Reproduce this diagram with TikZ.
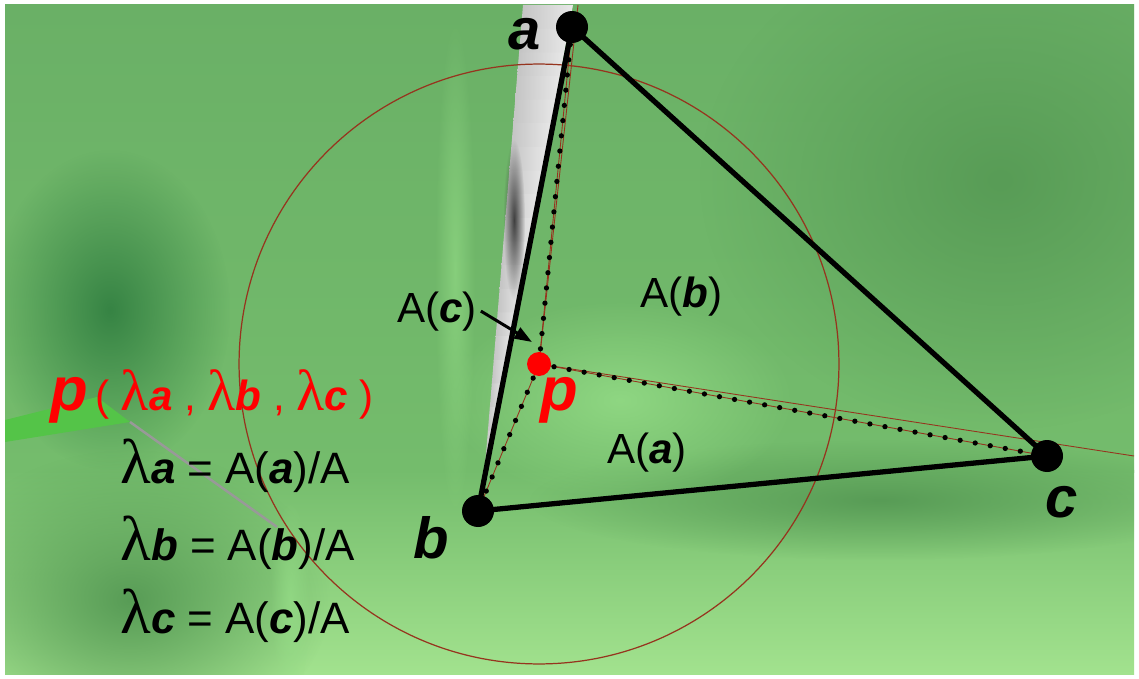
\documentclass[tikz,border=0pt]{standalone}
\usepackage{fontspec}
\setmainfont{Liberation Sans}
\newfontfamily\greekfont{Liberation Serif}
\usepackage{tikz}
\usetikzlibrary{arrows.meta, fadings}
\tikzset{>=latex}
\definecolor{bgtop}{RGB}{106,176,102}
\definecolor{bgmid}{RGB}{116,188,108}
\definecolor{bglow}{RGB}{162,226,142}
\definecolor{darkleaf}{RGB}{48,126,64}
\definecolor{shadeleaf}{RGB}{88,156,86}
\definecolor{paleleaf}{RGB}{150,222,136}
\definecolor{wedgeleaf}{RGB}{84,196,72}
\definecolor{ringred}{RGB}{150,52,30}
\definecolor{bargray}{RGB}{196,196,196}
\definecolor{barlight}{RGB}{232,232,232}
\tikzfading[name=blob, inner color=transparent!0, outer color=transparent!100]
\newcommand{\lam}[1][36]{{\greekfont\fontsize{#1}{#1}\selectfont λ}}
\newcommand{\bi}[1]{\textbf{\textit{#1}}}
\tikzset{
  dotline/.style={line width=3pt, dash pattern=on 0pt off 8.7pt, line cap=round},
  thinred/.style={ringred, line width=0.5pt},
  side/.style={line width=3pt},
  corner/.style={font=\fontsize{33}{33}\selectfont\bfseries\itshape, inner sep=0pt, anchor=base west},
  area/.style={font=\fontsize{24}{24}\selectfont, inner sep=0pt, anchor=base west},
  formula/.style={font=\fontsize{25}{25}\selectfont, inner sep=0pt, anchor=base west}
}

\begin{document}
\begin{tikzpicture}[x=0.02cm, y=-0.02cm]
   \fill[white] (0,0) rectangle (1139,679);
   \useasboundingbox (0,0) rectangle (1139,679);
   \shade[top color=bgtop, bottom color=bgmid] (5,5) rectangle (1134,472);
   \shade[top color=bgmid, bottom color=bglow] (5,470) rectangle (1134,674);

   \begin{scope}
   \clip (5,5) rectangle (1134,674);
   \fill[shadeleaf, path fading=blob] (1000,180) ellipse [x radius=6cm, y radius=5cm];
   \fill[shadeleaf, path fading=blob] (880,500) ellipse [x radius=7cm, y radius=1.2cm];
   \fill[shadeleaf, path fading=blob] (130,600) ellipse [x radius=4cm, y radius=3cm];
   \fill[darkleaf, path fading=blob, opacity=0.9] (110,310) ellipse [x radius=2.4cm, y radius=3.2cm];
   \fill[paleleaf, path fading=blob, opacity=0.8] (620,400) ellipse [x radius=3.5cm, y radius=2cm];
   \fill[paleleaf, path fading=blob, opacity=0.6] (455,270) ellipse [x radius=0.4cm, y radius=5cm];
   \fill[paleleaf, path fading=blob, opacity=0.7] (290,600) ellipse [x radius=0.4cm, y radius=2cm];
   \end{scope}

   \foreach \i in {0,...,19}{
      \pgfmathsetmacro{\ya}{5+23.65*\i}
      \pgfmathsetmacro{\yb}{\ya+24.5}
      \pgfmathsetmacro{\la}{523-39/473*(\ya-5)}
      \pgfmathsetmacro{\lb}{523-39/473*(\yb-5)}
      \pgfmathsetmacro{\ra}{573-87/473*(\ya-5)}
      \pgfmathsetmacro{\rb}{573-87/473*(\yb-5)}
      \shade[left color=bargray, middle color=white, right color=barlight]
         (\la,\ya) -- (\ra,\ya) -- (\rb,\yb) -- (\lb,\yb) -- cycle;
   }
   \fill[black!75, path fading=blob] (514,220) ellipse [x radius=0.22cm, y radius=1.6cm];

   \fill[wedgeleaf] (5,420) -- (97,397) -- (130,422) -- (5,442) -- cycle;
   \draw[gray!80, line width=1.4pt] (130,422) -- (277,527);

   \coordinate (a) at (572,27);
   \coordinate (b) at (478,511);
   \coordinate (c) at (1047,456);
   \coordinate (p) at (539,364);
   \coordinate (atop) at (578,5);
   \coordinate (cfar) at (1134,456);
   \coordinate (tip) at (532,342);

   \draw[thinred, line width=0.7pt] (p) circle [radius=6cm];
   \draw[thinred] (p) -- (atop);
   \draw[thinred] (p) -- (cfar);
   \foreach \v in {a,b,c}{
      \draw[thinred] (p) -- (\v);
      \draw[dotline] (p) -- (\v);
   }

   \draw[side] (a) -- (b) -- (c) -- cycle;
   \foreach \v in {a,b,c}
      \fill (\v) circle [radius=0.32cm];
   \fill[red] (p) circle [radius=0.24cm];

   \node[corner] (lblA) at (508,50) {a};
   \node[corner] (lblB) at (413,558) {b};
   \node[corner] (lblC) at (1045,517) {c};
   \node[corner, red, font=\fontsize{35}{35}\selectfont\bfseries\itshape] (lblP) at (540,410) {p};

   \node[area] (areaB) at (640,307) {A(\bi{b})};
   \node[area] (areaA) at (607,463) {A(\bi{a})};
   \node[area] (areaC) at (397,322) {A(\bi{c})};
   \coordinate (tail) at ([xshift=2pt]areaC.east);
   \draw[line width=1.7pt, -{Triangle[length=10pt, width=7pt]}] (tail) -- (tip);

   \node[formula, red] (tuple) at (50,410)
      {{\fontsize{35}{35}\selectfont\bi{p}}\,{\fontsize{24}{24}\selectfont ( \lam[33]\bi{a} , \lam[33]\bi{b} , \lam[33]\bi{c} )}};
   \node[formula] (lamA) at (120,483) {\lam\bi{a} = A(\bi{a})/A};
   \node[formula] (lamB) at (120,560) {\lam\bi{b} = A(\bi{b})/A};
   \node[formula] (lamC) at (120,633) {\lam\bi{c} = A(\bi{c})/A};
\end{tikzpicture}
\end{document}
